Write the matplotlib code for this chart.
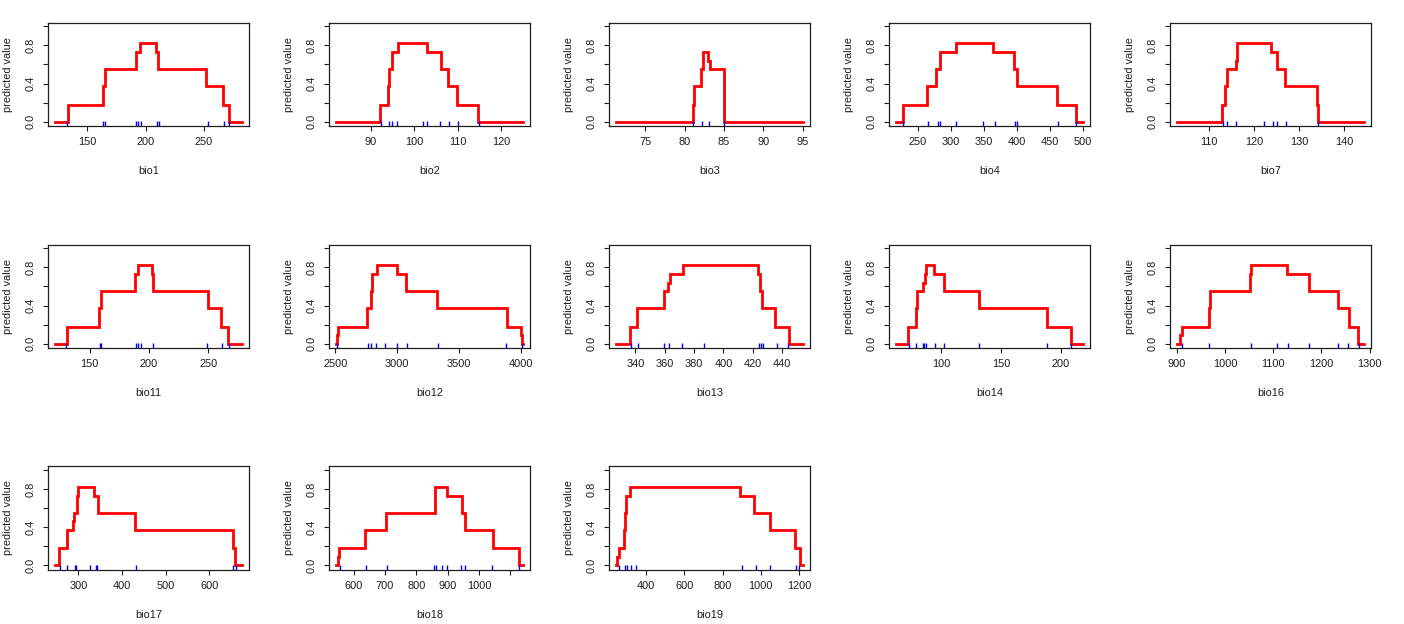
import numpy as np
import matplotlib
matplotlib.use("Agg")
import matplotlib.pyplot as plt

plt.rcParams['font.family'] = ['Liberation Sans', 'DejaVu Sans']

# response curves (step breaks and the level reached at each break)
bio1_x = [123, 133.5, 164, 165, 191.5, 195, 209, 211, 252, 266, 271, 282]
bio1_y = [0, .18, .37, .55, .73, .82, .73, .55, .37, .18, 0, 0]
bio1_rug = [133, 164, 165, 192, 193.5, 196, 210, 211.5, 253, 267, 271]
bio1_ticks = [150, 200, 250]

bio2_x = [82, 92.1, 93.8, 94.2, 94.9, 96.3, 102.9, 106.1, 107.7, 109.9, 114.7, 125]
bio2_y = [0, .18, .37, .55, .73, .82, .73, .55, .37, .18, 0, 0]
bio2_rug = [92.2, 94.1, 94.8, 96.1, 102, 103, 105.9, 108.1, 110.1, 115]
bio2_ticks = [90, 100, 110, 120]

bio3_x = [71.3, 81.0, 81.2, 82.1, 82.3, 82.9, 83.2, 84.95, 85.05, 95]
bio3_y = [0, .18, .37, .55, .73, .64, .55, .27, 0, 0]
bio3_rug = [81.1, 82.2, 83.1, 85.05]
bio3_ticks = [75, 80, 85, 90, 95]

bio4_x = [218, 227.5, 264.5, 277.5, 284.5, 308, 364, 395.5, 401, 461.5, 489.5, 499.5]
bio4_y = [0, .18, .37, .55, .73, .82, .73, .55, .37, .18, 0, 0]
bio4_rug = [228.2, 266.2, 280.4, 284.5, 308.3, 348.9, 366.6, 397, 399.6, 463, 489.9]
bio4_ticks = [250, 300, 350, 400, 450, 500]

bio7_x = [103, 112.9, 113.6, 113.9, 116.0, 116.2, 123.8, 125.2, 126.8, 133.9, 134.1, 144.3]
bio7_y = [0, .18, .37, .55, .64, .82, .73, .55, .37, .18, 0, 0]
bio7_rug = [113, 114.1, 116.1, 122.2, 124.1, 125, 127.1, 134.1]
bio7_ticks = [110, 120, 130, 140]

bio11_x = [121, 130.5, 158, 159.5, 188, 191, 202.5, 203.5, 249.5, 261, 266.5, 278]
bio11_y = [0, .18, .37, .55, .73, .82, .73, .55, .37, .18, 0, 0]
bio11_rug = [130.3, 158.2, 159.4, 188.8, 190.3, 193, 203.6, 249.1, 261.2, 267]
bio11_ticks = [150, 200, 250]

bio12_x = [2509, 2512, 2522, 2760, 2790, 2795, 2835, 2996, 3075, 3322, 3890, 4004, 4010, 4014]
bio12_y = [0, .09, .18, .37, .55, .73, .82, .73, .55, .37, .18, .09, 0, 0]
bio12_rug = [2515, 2762, 2791, 2826, 2902, 3001, 3082, 3330, 3883, 4008]
bio12_ticks = [2500, 3000, 3500, 4000]

bio13_x = [327, 336, 341, 359.5, 362.5, 363.5, 372.5, 423.5, 425, 426.5, 435, 444.5, 454]
bio13_y = [0, .18, .37, .55, .64, .73, .82, .73, .55, .37, .18, 0, 0]
bio13_rug = [336.8, 341.7, 359.7, 362.6, 371.9, 386.7, 424.3, 425.5, 426.7, 436.3, 443.9]
bio13_ticks = [340, 360, 380, 400, 420, 440]

bio14_x = [62.5, 72.5, 78.5, 79.5, 85, 86.5, 87.5, 94, 102.5, 131.5, 188, 208.5, 218]
bio14_y = [0, .18, .37, .55, .64, .73, .82, .73, .55, .37, .18, 0, 0]
bio14_rug = [73, 79, 84.4, 85.9, 86.8, 94.9, 102.4, 131.5, 188, 208.7]
bio14_ticks = [100, 150, 200]

bio16_x = [900.7, 906, 910, 965.5, 967.5, 1052, 1054, 1127.5, 1175, 1234, 1256.5, 1276, 1287.5]
bio16_y = [0, .09, .18, .37, .55, .73, .82, .73, .55, .37, .18, 0, 0]
bio16_rug = [911, 966.7, 1052.8, 1107, 1130.6, 1175, 1235.4, 1256.2, 1277]
bio16_ticks = [900, 1000, 1100, 1200, 1300]

bio17_x = [247.5, 256, 275, 288, 290.5, 298, 300, 335, 345, 429, 655.5, 660, 674]
bio17_y = [0, .18, .37, .46, .55, .73, .82, .73, .55, .37, .18, 0, 0]
bio17_rug = [257.4, 273.8, 291.8, 294.3, 327, 339.3, 342.6, 432, 654.9, 661.5]
bio17_ticks = [300, 400, 500, 600]

bio18_x = [545, 549, 554, 637, 703, 858.5, 898, 945, 954, 1046, 1127, 1139.4]
bio18_y = [0, .09, .18, .37, .55, .82, .73, .55, .37, .18, 0, 0]
bio18_rug = [556.6, 640, 705, 857, 862.9, 883.4, 897, 942.9, 956.6, 1043.4, 1128]
bio18_ticks = [600, 700, 800, 900, 1000, 1100]

bio19_x = [246, 251, 258, 283, 286, 291, 296, 318, 893, 965, 1050, 1180, 1204, 1217.5]
bio19_y = [0, .09, .18, .27, .37, .55, .73, .82, .73, .55, .37, .18, 0, 0]
bio19_rug = [260.3, 291.7, 298.7, 321.4, 347.6, 903, 972.9, 1046.3, 1182.5, 1200]
bio19_ticks = [400, 600, 800, 1000, 1200]

names = ['bio1', 'bio2', 'bio3', 'bio4', 'bio7',
         'bio11', 'bio12', 'bio13', 'bio14', 'bio16',
         'bio17', 'bio18', 'bio19']
curves = [(bio1_x, bio1_y, bio1_rug, bio1_ticks),
          (bio2_x, bio2_y, bio2_rug, bio2_ticks),
          (bio3_x, bio3_y, bio3_rug, bio3_ticks),
          (bio4_x, bio4_y, bio4_rug, bio4_ticks),
          (bio7_x, bio7_y, bio7_rug, bio7_ticks),
          (bio11_x, bio11_y, bio11_rug, bio11_ticks),
          (bio12_x, bio12_y, bio12_rug, bio12_ticks),
          (bio13_x, bio13_y, bio13_rug, bio13_ticks),
          (bio14_x, bio14_y, bio14_rug, bio14_ticks),
          (bio16_x, bio16_y, bio16_rug, bio16_ticks),
          (bio17_x, bio17_y, bio17_rug, bio17_ticks),
          (bio18_x, bio18_y, bio18_rug, bio18_ticks),
          (bio19_x, bio19_y, bio19_rug, bio19_ticks)]
# ticks that R left without a label
hidden = {'bio18': [1100]}

W, H = 1404, 624
fig = plt.figure(figsize=(W / 100, H / 100), dpi=100)
fig.patch.set_facecolor('white')

col_left = [48, 329, 609, 889, 1170]
row_top = [22.5, 244.5, 466]
bw, bh = 201, 103.5
ink = '#1e1e1e'
fs = 7.9

for i, (name, (xs, ys, rug, ticks)) in enumerate(zip(names, curves)):
    r, c = divmod(i, 5)
    ax = fig.add_axes([col_left[c] / W, 1 - (row_top[r] + bh) / H, bw / W, bh / H])
    ax.plot(xs, ys, drawstyle='steps-post', color='#ff0000', lw=2.0,
            solid_joinstyle='miter')
    ax.vlines(rug, 0, 0.045, transform=ax.get_xaxis_transform(),
              color='#0000ff', lw=1.0)
    lo, hi = min(xs), max(xs)
    pad = 0.04 * (hi - lo)
    ax.set_xlim(lo - pad, hi + pad)
    ax.set_ylim(-0.045, 1.04)
    ax.set_xticks(ticks)
    ax.set_xticklabels(['' if t in hidden.get(name, []) else str(t) for t in ticks])
    ax.set_yticks([0, 0.2, 0.4, 0.6, 0.8, 1.0])
    ax.set_yticklabels(['0.0', '', '0.4', '', '0.8', ''])
    for lab in ax.get_yticklabels():
        lab.set_rotation(90)
        lab.set_va('center')
    ax.tick_params(direction='out', length=3.6, width=0.8, colors=ink,
                   labelsize=fs, labelcolor=ink)
    ax.tick_params(axis='x', pad=4.5)
    ax.tick_params(axis='y', pad=5)
    for sp in ax.spines.values():
        sp.set_color(ink)
        sp.set_linewidth(0.9)
    ax.set_xlabel(name, fontsize=fs, color=ink, labelpad=13.5)
    ax.set_ylabel('predicted value', fontsize=fs, color=ink, labelpad=9.5)

fig.savefig('out.png', dpi=100, facecolor='white')
